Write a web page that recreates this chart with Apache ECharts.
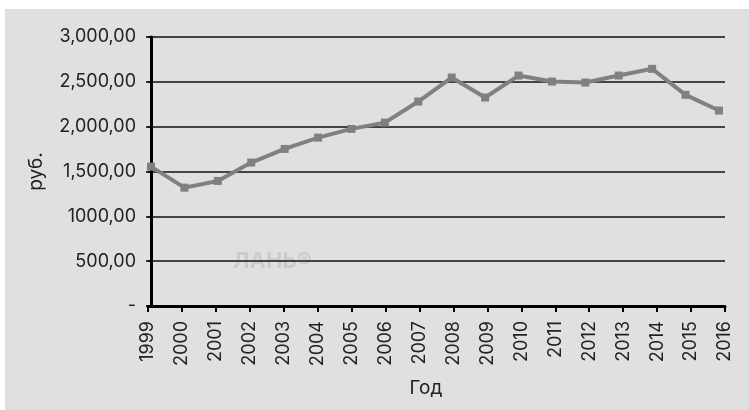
<!DOCTYPE html>
<html>
<head>
<meta charset="utf-8">
<script src="https://cdn.jsdelivr.net/npm/echarts@6/dist/echarts.min.js"></script>
<style>
  html, body { margin: 0; padding: 0; background: #ffffff; }
  #chart {
    position: absolute;
    left: 5px;
    top: 9px;
    width: 744px;
    height: 401px;
    background: #e0e0e0;
  }
</style>
</head>
<body>
<div id="chart"></div>
<script>
// годы на подписях оси и значения ряда
var years = ["1999", "2000", "2001", "2002", "2003", "2004", "2005", "2006", "2007",
  "2008", "2009", "2010", "2011", "2012", "2013", "2014", "2015", "2016"];
var values = [1555, 1320, 1395, 1600, 1752, 1878, 1975, 2045, 2280,
  2548, 2325, 2570, 2503, 2492, 2570, 2645, 2355, 2180];
var yTickValues = [0, 500, 1000, 1500, 2000, 2500, 3000];
var yTickLabels = ["-", "500,00", "1000,00", "1,500,00", "2,000,00", "2,500,00", "3,000,00"];

var font = "Inter";
var chart = echarts.init(document.getElementById("chart"));

var option = {
  animation: false,
  grid: {
    left: 143,
    top: 28,
    right: 24,
    bottom: 104
  },
  graphic: [
    {
      type: "text",
      left: 228,
      top: 241,
      silent: true,
      style: {
        text: "ЛАНЬ®",
        fill: "#cbcbcb",
        font: "bold 22px " + font
      }
    }
  ],
  xAxis: [
    {
      type: "category",
      data: years,
      boundaryGap: false,
      name: "Год",
      nameLocation: "middle",
      nameGap: 73,
      nameTextStyle: {
        color: "#222",
        fontFamily: font,
        fontSize: 19,
        padding: [0, 21, 0, 0]
      },
      axisLine: { lineStyle: { color: "#000", width: 3 } },
      axisTick: { length: 6, lineStyle: { color: "#000", width: 2 } },
      axisLabel: {
        rotate: 90,
        margin: 15,
        color: "#222",
        fontFamily: font,
        fontSize: 18
      },
      splitLine: { show: false }
    },
    {
      // точки ряда стоят чуть плотнее подписей, как в оригинале
      type: "value",
      show: false,
      min: -0.09,
      max: 17.18,
      splitLine: { show: false }
    }
  ],
  yAxis: {
    type: "value",
    min: 0,
    max: 3000,
    interval: 500,
    name: "руб.",
    nameLocation: "middle",
    nameGap: 102,
    nameTextStyle: {
      color: "#222",
      fontFamily: font,
      fontSize: 19
    },
    axisLine: { show: true, lineStyle: { color: "#000", width: 3 } },
    axisTick: { show: true, length: 5, lineStyle: { color: "#000", width: 1.5 } },
    axisLabel: {
      margin: 12,
      color: "#222",
      fontFamily: font,
      fontSize: 18,
      formatter: function (v) {
        var i = yTickValues.indexOf(v);
        return i >= 0 ? yTickLabels[i] : "";
      }
    },
    splitLine: { lineStyle: { color: "#111", width: 1.5 } }
  },
  series: [
    {
      type: "line",
      xAxisIndex: 1,
      data: values.map(function (v, i) { return [i, v]; }),
      symbol: "rect",
      symbolSize: 8,
      showSymbol: true,
      lineStyle: { color: "#808080", width: 4 },
      itemStyle: { color: "#808080" },
      z: 5
    }
  ]
};

chart.setOption(option);
</script>
</body>
</html>
